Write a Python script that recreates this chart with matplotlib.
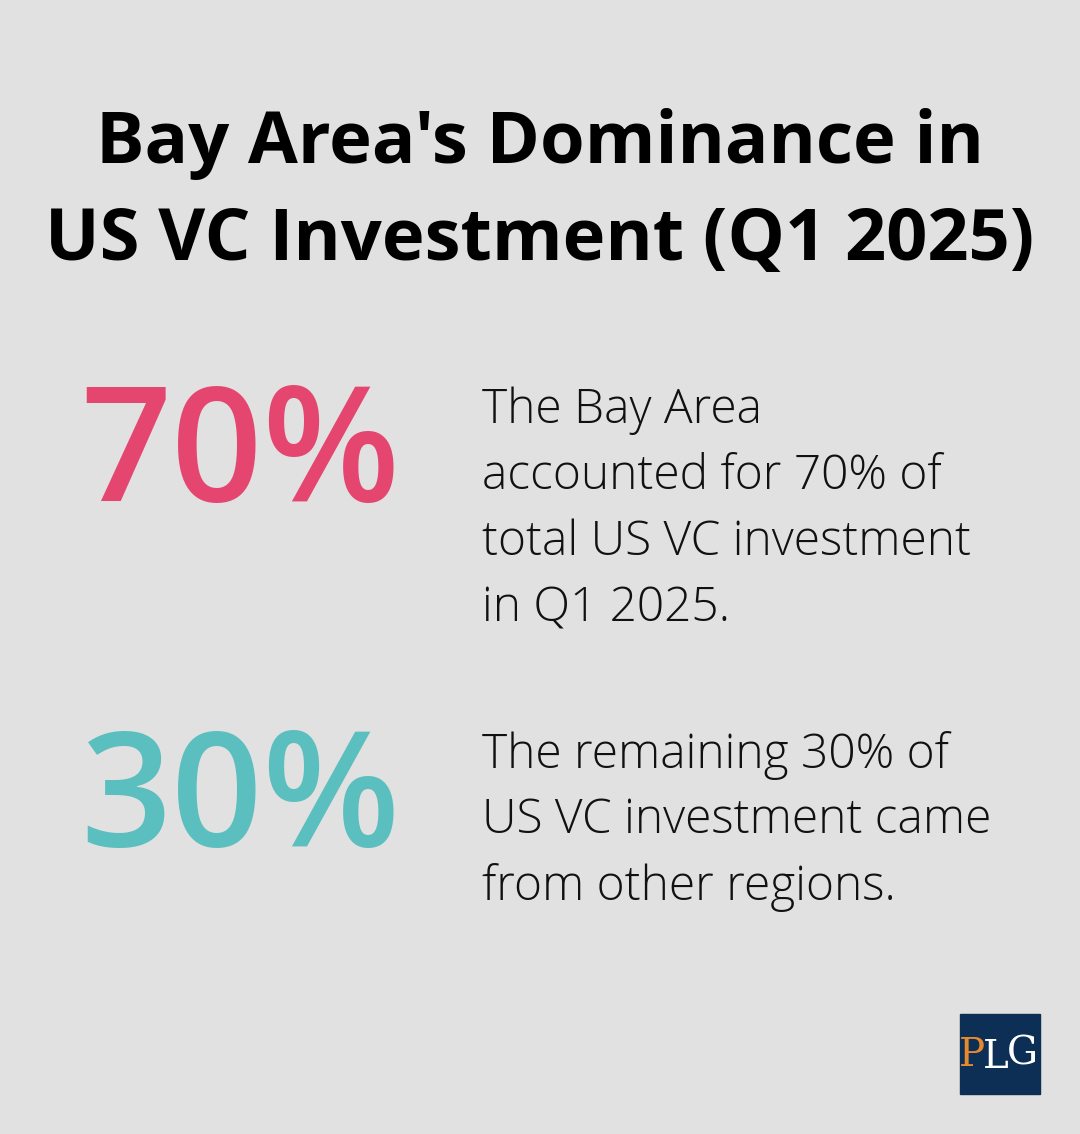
import matplotlib
matplotlib.use("Agg")
import matplotlib.pyplot as plt
from matplotlib.patches import Rectangle

title_lines = ["Bay Area's Dominance in", "US VC Investment (Q1 2025)"]
stats = ["70%", "30%"]
stat_colors = ["#e5466f", "#5bbfbf"]
descs = [["The Bay Area", "accounted for 70% of", "total US VC investment", "in Q1 2025."],
         ["The remaining 30% of", "US VC investment came", "from other regions."]]

W, H = 1080, 1134
fig = plt.figure(figsize=(W/100, H/100), dpi=100)
fig.patch.set_facecolor("#e0e1e0")
ax = fig.add_axes([0, 0, 1, 1])
ax.set_xlim(0, W); ax.set_ylim(H, 0); ax.axis("off")

for i, t in enumerate(title_lines):
    ax.text(540, 144 + i*97, t, ha="center", va="center", fontsize=52,
            fontweight="bold", family="Open Sans", color="#000000")

stat_y = [459, 804]
desc_y0 = [411, 755]
for s, c, y, d, dy in zip(stats, stat_colors, stat_y, descs, desc_y0):
    ax.text(240, y, s, ha="center", va="center", fontsize=115, family="Open Sans",
            fontweight="semibold", color=c)
    for j, line in enumerate(d):
        ax.text(482, dy + j*66, line, ha="left", va="center", fontsize=34.5,
                family="Open Sans", fontweight="light", color="#111111")

ax.add_patch(Rectangle((960, 1014), 80, 80, color="#0d2f55"))
ax.text(972, 1056, "P", ha="center", va="center", fontsize=28, family="DejaVu Serif", color="#e8892b")
ax.text(996, 1058, "L", ha="center", va="center", fontsize=28, family="DejaVu Serif", color="#ffffff")
ax.text(1022, 1054, "G", ha="center", va="center", fontsize=28, family="DejaVu Serif", color="#ffffff")

fig.savefig("out.png", dpi=100, facecolor=fig.get_facecolor())
